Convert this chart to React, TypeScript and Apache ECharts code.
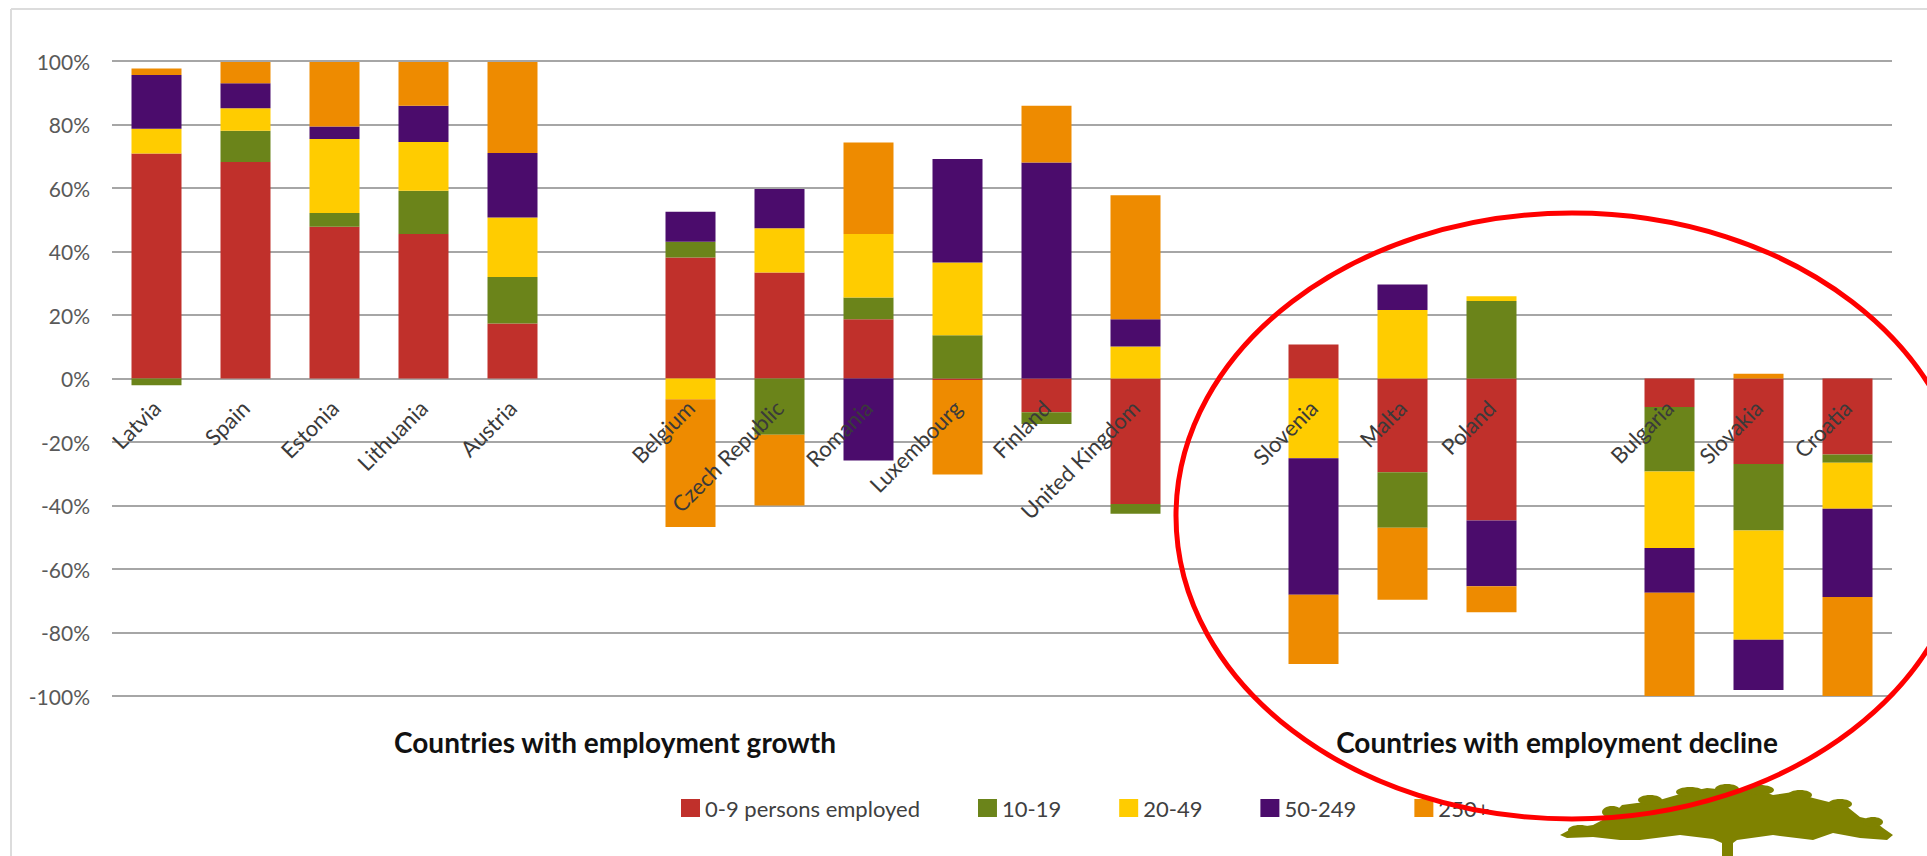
import React, { useEffect, useRef } from 'react';
import * as echarts from 'echarts';

// Countries in display order
const countries = [
  'Latvia', 'Spain', 'Estonia', 'Lithuania', 'Austria',
  'Belgium', 'Czech Republic', 'Romania', 'Luxembourg', 'Finland', 'United Kingdom',
  'Slovenia', 'Malta', 'Poland',
  'Bulgaria', 'Slovakia', 'Croatia',
];

// Contribution (%) of each enterprise size class
const micro = [70.9, 68.2, 47.8, 45.5, 17.3, 38.1, 33.4, 18.7, -0.5, -10.6, -39.5, 10.7, -29.5, -44.7, -9.0, -26.9, -23.9];
const small = [-2.1, 9.8, 4.3, 13.6, 14.7, 5.0, -17.7, 6.8, 13.6, -3.7, -3.1, 0, -17.5, 24.4, -20.3, -21.0, -2.6];
const medium = [7.8, 7.1, 23.3, 15.4, 18.7, -6.5, 13.9, 20.0, 22.9, 0, 10.1, -25.1, 21.6, 1.5, -24.1, -34.4, -14.5];
const large = [16.9, 7.9, 4.0, 11.4, 20.3, 9.4, 12.4, -25.8, 32.6, 68.0, 8.6, -43.0, 8.0, -20.7, -14.1, -15.8, -27.8];
const veryLarge = [2.0, 6.7, 20.3, 13.8, 28.7, -40.3, -22.3, 28.8, -29.7, 17.9, 39.0, -21.8, -22.7, -8.2, -32.7, 1.5, -31.3];

const seriesNames = ['0-9 persons employed', '10-19', '20-49', '50-249', '250+'];
const groupTitles = ['Countries with employment growth', 'Countries with employment decline'];

// y axis range (percent)
const yMin = -100;
const yMax = 100;
const yStep = 20;

// layout: empty category slot after these country indices
const gapsAfter = [4, 10, 13];
const seriesColors = ['#c0302b', '#6b841a', '#ffcc00', '#4b0c6c', '#ee8b00'];

export default function App() {
  const ref = useRef<HTMLDivElement>(null);

  useEffect(() => {
    document.body.style.margin = '0';
    const chart = echarts.init(ref.current!, null, { renderer: 'svg' });

    const slots: (number | null)[] = [];
    countries.forEach((_, i) => {
      slots.push(i);
      if (gapsAfter.includes(i)) slots.push(null);
    });
    const categories = slots.map((i) => (i === null ? '' : countries[i]));
    const values = [micro, small, medium, large, veryLarge];

    const series = seriesNames.map((name, k) => ({
      name,
      type: 'bar',
      stack: 'total',
      barWidth: 50,
      itemStyle: { color: seriesColors[k] },
      data: slots.map((i) => (i === null ? '-' : values[k][i])),
    }));

    const treePoints = [
      [1560, 835], [1573, 828], [1593, 825], [1612, 815], [1622, 805], [1637, 803],
      [1650, 802], [1663, 799], [1687, 792], [1707, 788], [1727, 790], [1753, 788],
      [1773, 795], [1793, 792], [1813, 798], [1833, 803], [1845, 805], [1860, 817],
      [1873, 820], [1883, 828], [1893, 835], [1887, 840], [1860, 838], [1833, 833],
      [1813, 840], [1773, 835], [1737, 840], [1733, 843], [1733, 856], [1722, 856],
      [1722, 843], [1713, 839], [1680, 835], [1640, 840], [1620, 840], [1593, 837],
      [1567, 838],
    ];
    const clumps = [
      [1612, 812, 10, 6], [1650, 800, 12, 5], [1690, 792, 14, 5], [1727, 789, 12, 5],
      [1760, 790, 14, 5], [1800, 795, 12, 5], [1840, 804, 12, 5], [1873, 822, 10, 5],
      [1580, 830, 12, 5],
    ];

    chart.setOption({
      animation: false,
      backgroundColor: '#ffffff',
      grid: { left: 112, right: 35, top: 61, bottom: 160, containLabel: false },
      legend: {
        left: 676,
        top: 792,
        itemWidth: 19,
        itemHeight: 18,
        itemGap: 58,
        icon: 'rect',
        textStyle: { fontSize: 22, color: '#404040', fontFamily: 'Lato' },
        data: seriesNames,
      },
      xAxis: {
        type: 'category',
        data: categories,
        z: 10,
        offset: -318,
        axisLine: { show: false, onZero: false },
        axisTick: { show: false },
        axisLabel: {
          interval: 0,
          rotate: 45,
          margin: 26,
          fontSize: 22,
          color: '#3a3a3a',
          fontFamily: 'Lato',
        },
      },
      yAxis: {
        type: 'value',
        min: yMin,
        max: yMax,
        interval: yStep,
        axisLine: { show: false },
        axisTick: { show: false },
        axisLabel: {
          formatter: '{value}%',
          fontSize: 21,
          color: '#595959',
          fontFamily: 'Lato',
          margin: 22,
        },
        splitLine: { lineStyle: { color: '#a6a6a6', width: 2 } },
      },
      series,
      graphic: [
        { type: 'line', z: 1, shape: { x1: 11, y1: 9, x2: 1927, y2: 9 }, style: { stroke: '#dcdcdc', lineWidth: 2 } },
        { type: 'line', z: 1, shape: { x1: 11, y1: 9, x2: 11, y2: 856 }, style: { stroke: '#dcdcdc', lineWidth: 2 } },
        {
          type: 'text', x: 615, y: 742, z: 20,
          style: { text: groupTitles[0], align: 'center', verticalAlign: 'middle', font: 'bold 28px Lato', fill: '#111111' },
        },
        {
          type: 'text', x: 1557, y: 742, z: 20,
          style: { text: groupTitles[1], align: 'center', verticalAlign: 'middle', font: 'bold 28px Lato', fill: '#111111' },
        },
        {
          type: 'polygon', z: 30,
          shape: { points: treePoints },
          style: { fill: '#7f8200' },
        },
        ...clumps.map((c) => ({
          type: 'ellipse', z: 30,
          shape: { cx: c[0], cy: c[1], rx: c[2], ry: c[3] },
          style: { fill: '#7f8200' },
        })),
        {
          type: 'ellipse', z: 50,
          shape: { cx: 1572, cy: 516, rx: 396, ry: 303 },
          style: { fill: 'none', stroke: '#ff0000', lineWidth: 5 },
        },
      ],
    });

    return () => chart.dispose();
  }, []);

  return (
    <div
      ref={ref}
      style={{ position: 'fixed', left: 0, top: 0, width: 1927, height: 856, background: '#fff' }}
    />
  );
}
